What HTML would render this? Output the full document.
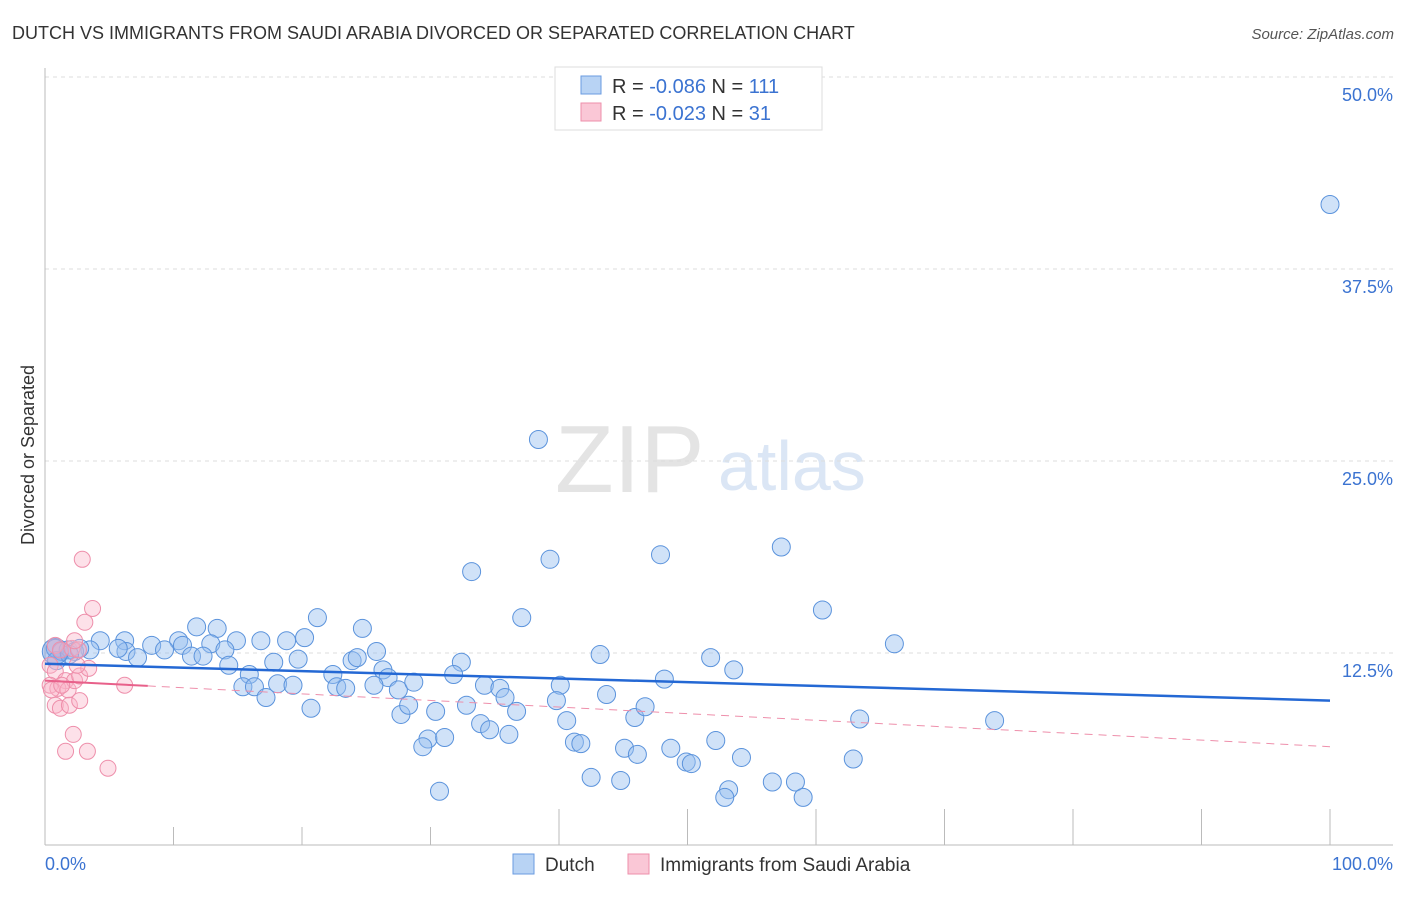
<!DOCTYPE html>
<html><head><meta charset="utf-8"><style>
body{margin:0;background:#fff;font-family:"Liberation Sans",sans-serif;}
svg text{font-family:"Liberation Sans",sans-serif;}
</style></head><body>
<svg id="chart" width="1406" height="892">
<text x="12" y="39" font-size="18" fill="#333">DUTCH VS IMMIGRANTS FROM SAUDI ARABIA DIVORCED OR SEPARATED CORRELATION CHART</text>
<text x="1394" y="39" font-size="15" fill="#555" font-style="italic" text-anchor="end">Source: ZipAtlas.com</text>
<text x="34" y="455" font-size="18" fill="#333" text-anchor="middle" transform="rotate(-90 34 455)">Divorced or Separated</text>
<text x="555" y="492" font-size="96" fill="#e4e4e4" font-family="Liberation Serif">ZIP</text>
<text x="718" y="490" font-size="70" fill="#dbe6f5">atlas</text>
<g id="grid"></g><g id="axes"></g><g id="pts"></g><g id="lines"></g>
<g>
<rect x="555" y="67" width="267" height="63" fill="#fff" stroke="#ddd"/>
<rect x="581" y="76" width="20" height="18" fill="#b8d3f4" stroke="#6a9be0"/>
<text x="612" y="93" font-size="20" fill="#333">R = <tspan fill="#3b73d1">-0.086</tspan>   N = <tspan fill="#3b73d1">111</tspan></text>
<rect x="581" y="103" width="20" height="18" fill="#fac7d6" stroke="#ee8fab"/>
<text x="612" y="120" font-size="20" fill="#333">R = <tspan fill="#3b73d1">-0.023</tspan>   N = <tspan fill="#3b73d1"> 31</tspan></text>
</g>
<g>
<rect x="513" y="854" width="21" height="20" fill="#b8d3f4" stroke="#6a9be0"/>
<text x="545" y="871" font-size="19" fill="#333">Dutch</text>
<rect x="628" y="854" width="21" height="20" fill="#fac7d6" stroke="#ee8fab"/>
<text x="660" y="871" font-size="19" fill="#333">Immigrants from Saudi Arabia</text>
</g>
</svg>
<script>
const yTicks=[12.5,25,37.5,50];
const yTickLabels=["12.5%","25.0%","37.5%","50.0%"];
const xTickLabels=["0.0%","100.0%"];
const dutchX=[100,38.4,33.2,39.3,47.9,57.3,37.1,60.5,21.2,66.1,11.8,13.4,24.7,20.2,16.8,14.9,18.8,6.2,4.3,8.3,10.4,10.7,12.9,14.0,6.3,3.5,5.7,7.2,9.3,11.4,12.3,19.7,17.8,23.9,24.3,25.8,32.4,43.2,51.8,53.6,14.3,15.9,22.4,26.3,26.7,31.8,15.4,16.3,17.2,18.1,19.3,22.7,23.4,25.6,27.5,28.7,34.2,35.4,35.8,40.1,39.8,48.2,43.7,20.7,27.7,28.3,30.4,32.8,36.7,40.6,45.9,46.7,63.4,73.9,33.9,34.6,36.1,29.8,31.1,29.4,41.2,41.7,45.1,46.1,48.7,49.9,50.3,52.2,54.2,62.9,42.5,44.8,53.2,56.6,58.4,52.9,59.0,30.7,0.8,1.3,1.8,2.3,2.7,0.9,1.9];
const dutchY=[41.7,26.4,17.8,18.6,18.9,19.4,14.8,15.3,14.8,13.1,14.2,14.1,14.1,13.5,13.3,13.3,13.3,13.3,13.3,13.0,13.3,13.0,13.1,12.7,12.6,12.7,12.8,12.2,12.7,12.3,12.3,12.1,11.9,12.0,12.2,12.6,11.9,12.4,12.2,11.4,11.7,11.1,11.1,11.4,10.9,11.1,10.3,10.3,9.6,10.5,10.4,10.3,10.2,10.4,10.1,10.6,10.4,10.2,9.6,10.4,9.4,10.8,9.8,8.9,8.5,9.1,8.7,9.1,8.7,8.1,8.3,9.0,8.2,8.1,7.9,7.5,7.2,6.9,7.0,6.4,6.7,6.6,6.3,5.9,6.3,5.4,5.3,6.8,5.7,5.6,4.4,4.2,3.6,4.1,4.1,3.1,3.1,3.5,12.8,12.6,12.7,12.6,12.8,12.0,12.4];
const saudiX=[2.9,3.7,3.1,0.8,1.2,2.1,0.4,0.8,1.6,0.4,1.0,1.8,2.3,2.7,3.4,2.5,6.2,0.8,1.2,1.9,2.7,2.2,1.6,3.3,4.9,0.5,1.3,2.6,2.3];
const saudiY=[18.6,15.4,14.5,13.0,12.7,12.8,11.7,11.3,10.7,10.4,10.2,10.1,10.7,11.0,11.5,11.7,10.4,9.1,8.9,9.1,9.4,7.2,6.1,6.1,5.0,10.1,10.4,12.7,13.3];
const dutchTrend=[11.8,9.4];
const saudiTrend=[10.7,6.4];
const saudiSolidEnd=8;
const NS="http://www.w3.org/2000/svg";
const X=v=>45+v*12.85, Y=v=>845-v*15.36;
function mk(tag,attrs,parent){const e=document.createElementNS(NS,tag);for(const k in attrs)e.setAttribute(k,attrs[k]);document.getElementById(parent).appendChild(e);return e;}
yTicks.forEach((t,i)=>{
 const g=mk('line',{x1:45,x2:1393,y1:Y(t),y2:Y(t),stroke:'#ddd','stroke-dasharray':'4,4'},'grid');
 
 
 const l=mk('text',{x:1393,y:Y(t)+24,'font-size':18,fill:'#3b73d1','text-anchor':'end'},'grid');l.textContent=yTickLabels[i];
 
 
});
const ax=mk('line',{x1:45,x2:45,y1:68,y2:845,stroke:'#bbb'},'axes');


const bx=mk('line',{x1:45,x2:1393,y1:845,y2:845,stroke:'#bbb'},'axes');


for(let i=1;i<=10;i++){const t=mk('line',{x1:X(i*10),x2:X(i*10),y1:i<4?827:809,y2:845,stroke:'#bbb'},'axes');
 
 }
[[0,'start',45],[100,'end',1393]].forEach((a,i)=>{const t=mk('text',{x:a[2],y:870,'font-size':18,fill:'#3b73d1','text-anchor':a[1]},'axes');t.textContent=xTickLabels[i];
 
 });
dutchX.forEach((x,i)=>{const c=mk('circle',{cx:X(x),cy:Y(dutchY[i]),r:9,fill:'rgba(150,190,240,0.45)',stroke:'#5b93dc','stroke-width':1},'pts');
 
 });
const big=mk('circle',{cx:X(0.8),cy:Y(12.6),r:13,fill:'rgba(120,160,230,0.5)',stroke:'#5b93dc'},'pts');


saudiX.forEach((x,i)=>{const c=mk('circle',{cx:X(x),cy:Y(saudiY[i]),r:8,fill:'rgba(250,180,200,0.4)',stroke:'#ee8fab','stroke-width':1},'pts');
 
 });
const sY=x=>saudiTrend[0]+(saudiTrend[1]-saudiTrend[0])*x/100;
const d1=mk('line',{x1:X(saudiSolidEnd),y1:Y(sY(saudiSolidEnd)),x2:X(100),y2:Y(saudiTrend[1]),stroke:'#ee8fab','stroke-dasharray':'8,6','stroke-width':1},'lines');


const s1=mk('line',{x1:X(0),y1:Y(saudiTrend[0]),x2:X(saudiSolidEnd),y2:Y(sY(saudiSolidEnd)),stroke:'#e8608a','stroke-width':2},'lines');


const bl=mk('line',{x1:X(0),y1:Y(dutchTrend[0]),x2:X(100),y2:Y(dutchTrend[1]),stroke:'#2468d4','stroke-width':2.5},'lines');


</script>
</body></html>
